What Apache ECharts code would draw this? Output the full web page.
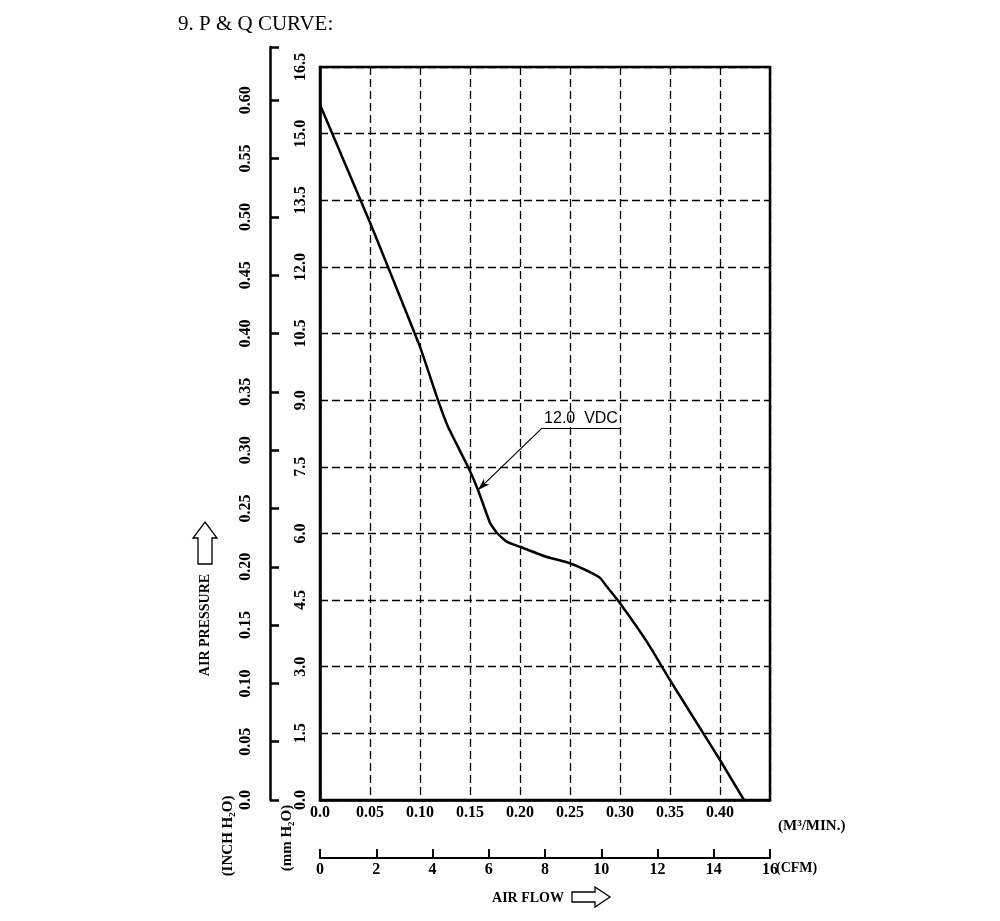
<!DOCTYPE html>
<html>
<head>
<meta charset="utf-8">
<script src="https://cdn.jsdelivr.net/npm/echarts@6/dist/echarts.min.js"></script>
<style>
  html, body { margin: 0; padding: 0; background: #fff; }
  #PQ { width: 1000px; height: 921px; }
</style>
</head>
<body>
<div id="PQ"></div>
<script>
// 风量 M3/MIN 与 静压 mmH2O（12.0 VDC）
var flowM3 = [0, 0.05, 0.068, 0.10, 0.118, 0.128, 0.148, 0.158, 0.17, 0.177, 0.187, 0.20, 0.227, 0.25, 0.27, 0.28, 0.287, 0.30, 0.327, 0.35, 0.383, 0.40, 0.424];
var pressureMm = [15.65, 13.0, 12.0, 10.2, 9.0, 8.4, 7.5, 6.98, 6.24, 6.01, 5.81, 5.70, 5.47, 5.33, 5.13, 5.0, 4.8, 4.43, 3.56, 2.70, 1.51, 0.90, 0];

// 坐标轴范围
var flowMax = 0.45, flowStep = 0.05;
var cfmMax = 16, cfmStep = 2;
var mmMax = 16.5, mmStep = 1.5;
var inchMax = 0.6457, inchStep = 0.05;

// 标注 12.0 VDC 引线
var noteText = '12.0  VDC';
var noteStart = [0.30, 8.37];
var noteKnee = [0.222, 8.37];
var noteTip = [0.158, 6.98];

var serif = '"Liberation Serif", "DejaVu Serif", serif';
var sans = '"Liberation Sans", Arial, sans-serif';

var chartPQ = echarts.init(document.getElementById('PQ'));

var curve = flowM3.map(function (x, i) { return [x, pressureMm[i]]; });

var option = {
  animation: false,
  title: {
    text: '9. P & Q CURVE:',
    left: 173,
    top: 9,
    textStyle: { fontFamily: serif, fontSize: 21, fontWeight: 'normal', color: '#000' }
  },
  grid: [
    { left: 320, right: 230, top: 67, bottom: 121, show: true, borderColor: '#000', borderWidth: 2.5 },
    // 英寸水柱轴单独一格，轴线比图框高一点
    { left: 320, right: 230, top: 47, bottom: 121, show: false }
  ],
  xAxis: [
    {
      type: 'value', min: 0, max: flowMax, interval: flowStep,
      axisLine: { lineStyle: { color: '#000', width: 2.5 } },
      axisTick: { show: false },
      axisLabel: {
        color: '#000', fontFamily: serif, fontWeight: 'bold', fontSize: 16, margin: 5,
        formatter: function (v) {
          if (v === 0) return '0.0';
          if (v > flowMax - 0.001) return '';
          return v.toFixed(2);
        }
      },
      splitLine: { lineStyle: { color: '#000', width: 1.3, type: [8, 4] } }
    },
    {
      type: 'value', position: 'bottom', offset: 58, min: 0, max: cfmMax, interval: cfmStep,
      axisLine: { onZero: false, lineStyle: { color: '#000', width: 2 } },
      axisTick: { inside: true, length: 9, lineStyle: { color: '#000', width: 2 } },
      axisLabel: { color: '#000', fontFamily: serif, fontWeight: 'bold', fontSize: 16, margin: 4 },
      splitLine: { show: false }
    },
    {
      type: 'value', gridIndex: 1, min: 0, max: 1, show: false
    }
  ],
  yAxis: [
    {
      type: 'value', min: 0, max: mmMax, interval: mmStep,
      axisLine: { lineStyle: { color: '#000', width: 2.5 } },
      axisTick: { show: false },
      axisLabel: {
        color: '#000', fontFamily: serif, fontWeight: 'bold', fontSize: 16, margin: 11, rotate: 90,
        formatter: function (v) { return v.toFixed(1); }
      },
      splitLine: { lineStyle: { color: '#000', width: 1.3, type: [8, 4] } }
    },
    {
      type: 'value', gridIndex: 1, position: 'left', offset: 50, min: 0, max: inchMax, interval: inchStep,
      axisLine: { show: true, onZero: false, lineStyle: { color: '#000', width: 2.5 } },
      axisTick: { show: true, inside: true, length: 9, lineStyle: { color: '#000', width: 2.5 } },
      axisLabel: {
        color: '#000', fontFamily: serif, fontWeight: 'bold', fontSize: 16, margin: 16, rotate: 90,
        formatter: function (v) {
          if (v === 0) return '0.0';
          if (v > 0.61) return '';
          return v.toFixed(2);
        }
      },
      splitLine: { show: false }
    }
  ],
  series: [
    {
      type: 'line',
      xAxisIndex: 0, yAxisIndex: 0,
      data: curve,
      symbol: 'none',
      smooth: 0.15,
      lineStyle: { color: '#000', width: 2.5 },
      markLine: {
        silent: true,
        symbol: ['none', 'none'],
        lineStyle: { color: '#000', width: 1.2, type: 'solid' },
        label: { show: false },
        data: [
          [
            { coord: noteStart, symbol: 'none',
              label: { show: true, position: 'middle', formatter: noteText, color: '#000',
                       fontFamily: sans, fontSize: 16, distance: 2 } },
            { coord: noteKnee, symbol: 'none' }
          ],
          [
            { coord: noteKnee, symbol: 'none' },
            { coord: noteTip, symbol: 'arrow', symbolSize: [6, 12] }
          ]
        ]
      }
    }
  ],
  graphic: [
    // 纵轴标题
    { type: 'polygon', shape: { points: [[205, 522], [217, 538], [212, 538], [212, 564], [198, 564], [198, 538], [193, 538]] },
      style: { fill: '#fff', stroke: '#000', lineWidth: 1.3 } },
    { type: 'text', x: 205, y: 625, rotation: Math.PI / 2,
      style: { text: 'AIR PRESSURE', fontFamily: serif, fontWeight: 'bold', fontSize: 14, fill: '#000',
               textAlign: 'center', textVerticalAlign: 'middle' } },
    { type: 'text', x: 228, y: 836, rotation: Math.PI / 2,
      style: { text: '(INCH H₂O)', fontFamily: serif, fontWeight: 'bold', fontSize: 15, fill: '#000',
               textAlign: 'center', textVerticalAlign: 'middle' } },
    { type: 'text', x: 287, y: 838, rotation: Math.PI / 2,
      style: { text: '(mm H₂O)', fontFamily: serif, fontWeight: 'bold', fontSize: 15, fill: '#000',
               textAlign: 'center', textVerticalAlign: 'middle' } },
    // 横轴标题
    { type: 'text', x: 778, y: 826,
      style: { text: '(M³/MIN.)', fontFamily: serif, fontWeight: 'bold', fontSize: 15, fill: '#000',
               textAlign: 'left', textVerticalAlign: 'middle' } },
    { type: 'text', x: 776, y: 868,
      style: { text: '(CFM)', fontFamily: serif, fontWeight: 'bold', fontSize: 14, fill: '#000',
               textAlign: 'left', textVerticalAlign: 'middle' } },
    { type: 'text', x: 528, y: 898,
      style: { text: 'AIR FLOW', fontFamily: serif, fontWeight: 'bold', fontSize: 14, fill: '#000',
               textAlign: 'center', textVerticalAlign: 'middle' } },
    { type: 'polygon', shape: { points: [[572, 892], [595, 892], [595, 887], [610, 897], [595, 907], [595, 902], [572, 902]] },
      style: { fill: '#fff', stroke: '#000', lineWidth: 1.3 } }
  ]
};

chartPQ.setOption(option);
window.onresize = chartPQ.resize;
</script>
</body>
</html>
